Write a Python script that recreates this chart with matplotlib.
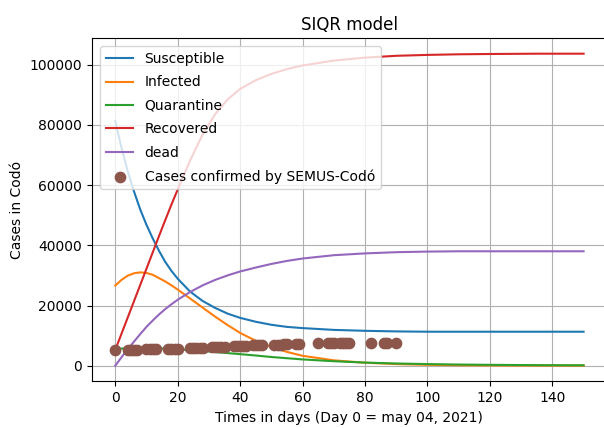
import numpy as np
import matplotlib
matplotlib.use("Agg")
import matplotlib.pyplot as plt

## model curves, values (thousands of cases)
days = [0, 2, 4, 6, 8, 10, 12, 14, 16, 18, 20, 24, 28, 32, 36, 40, 45, 50,
        55, 60, 70, 80, 90, 100, 110, 120, 135, 150]

susceptible = [81.3, 72.4, 64.6, 57.9, 51.9, 46.8, 42.3, 38.2, 34.5, 31.5,
               28.9, 24.6, 21.5, 19.2, 17.3, 15.9, 14.6, 13.6, 12.9, 12.5,
               11.9, 11.6, 11.4, 11.3, 11.3, 11.3, 11.3, 11.3]
infected = [26.6, 28.5, 29.9, 30.7, 31.0, 30.8, 30.2, 29.1, 28.0, 26.7,
            25.3, 22.3, 19.3, 16.3, 13.5, 10.9, 8.3, 6.2, 4.6, 3.3,
            1.8, 1.0, 0.55, 0.3, 0.17, 0.1, 0.05, 0.02]
quarantine = [5.6, 5.7, 5.8, 5.85, 5.9, 5.9, 5.85, 5.8, 5.7, 5.6,
              5.45, 5.2, 4.9, 4.55, 4.2, 3.85, 3.4, 2.9, 2.5, 2.1,
              1.5, 1.05, 0.75, 0.55, 0.4, 0.3, 0.2, 0.15]
recovered = [5.2, 10.6, 16.0, 21.4, 26.8, 32.2, 37.6, 43.0, 48.3, 53.5,
             58.5, 68.2, 76.8, 83.5, 88.4, 91.9, 94.8, 96.9, 98.5, 99.7,
             101.3, 102.3, 102.9, 103.2, 103.4, 103.5, 103.6, 103.6]
dead = [0.0, 2.8, 5.5, 8.0, 10.5, 12.9, 15.0, 17.0, 18.8, 20.4,
        21.9, 24.5, 26.7, 28.5, 30.0, 31.3, 32.6, 33.8, 34.8, 35.6,
        36.7, 37.3, 37.7, 37.9, 38.0, 38.0, 38.0, 38.0]

## confirmed cases (SEMUS-Codó)
case_days = [0, 4, 5, 6, 7, 10, 11, 12, 13, 17, 18, 19, 20, 24, 25, 26, 27,
             28, 31, 32, 33, 34, 35, 38, 39, 40, 41, 42, 44, 45, 46, 47,
             51, 52, 53, 54, 55, 58, 59, 65, 68, 69, 70, 72, 73, 74, 75,
             82, 86, 87, 90]
case_vals = [5.2, 5.3, 5.3, 5.35, 5.35, 5.4, 5.4, 5.4, 5.4, 5.45, 5.45, 5.45,
             5.5, 5.8, 5.85, 5.9, 5.95, 6.0, 6.2, 6.25, 6.3, 6.3, 6.35, 6.5,
             6.5, 6.55, 6.6, 6.6, 6.8, 6.8, 6.85, 6.9, 7.0, 7.0, 7.05, 7.1,
             7.1, 7.2, 7.25, 7.5, 7.5, 7.5, 7.55, 7.55, 7.55, 7.6, 7.6,
             7.65, 7.6, 7.6, 7.6]

t = np.array(days)
k = 1000

fig = plt.figure(figsize=(6.04, 4.28), dpi=100)
ax = fig.add_axes([0.152, 0.109, 0.853, 0.802])

ax.plot(t, np.array(susceptible) * k, label="Susceptible")
ax.plot(t, np.array(infected) * k, label="Infected")
ax.plot(t, np.array(quarantine) * k, label="Quarantine")
ax.plot(t, np.array(recovered) * k, label="Recovered")
ax.plot(t, np.array(dead) * k, label="dead")
ax.scatter(case_days, np.array(case_vals) * k, s=55, color="tab:brown",
           label="Cases confirmed by SEMUS-Codó", zorder=3)

ax.set_title("SIQR model")
ax.set_xlabel("Times in days (Day 0 = may 04, 2021)")
ax.set_ylabel("Cases in Codó")
ax.grid(True)
ax.legend(loc="upper left", labelspacing=0.68, borderaxespad=0.6)

fig.savefig("out.png", dpi=100)
